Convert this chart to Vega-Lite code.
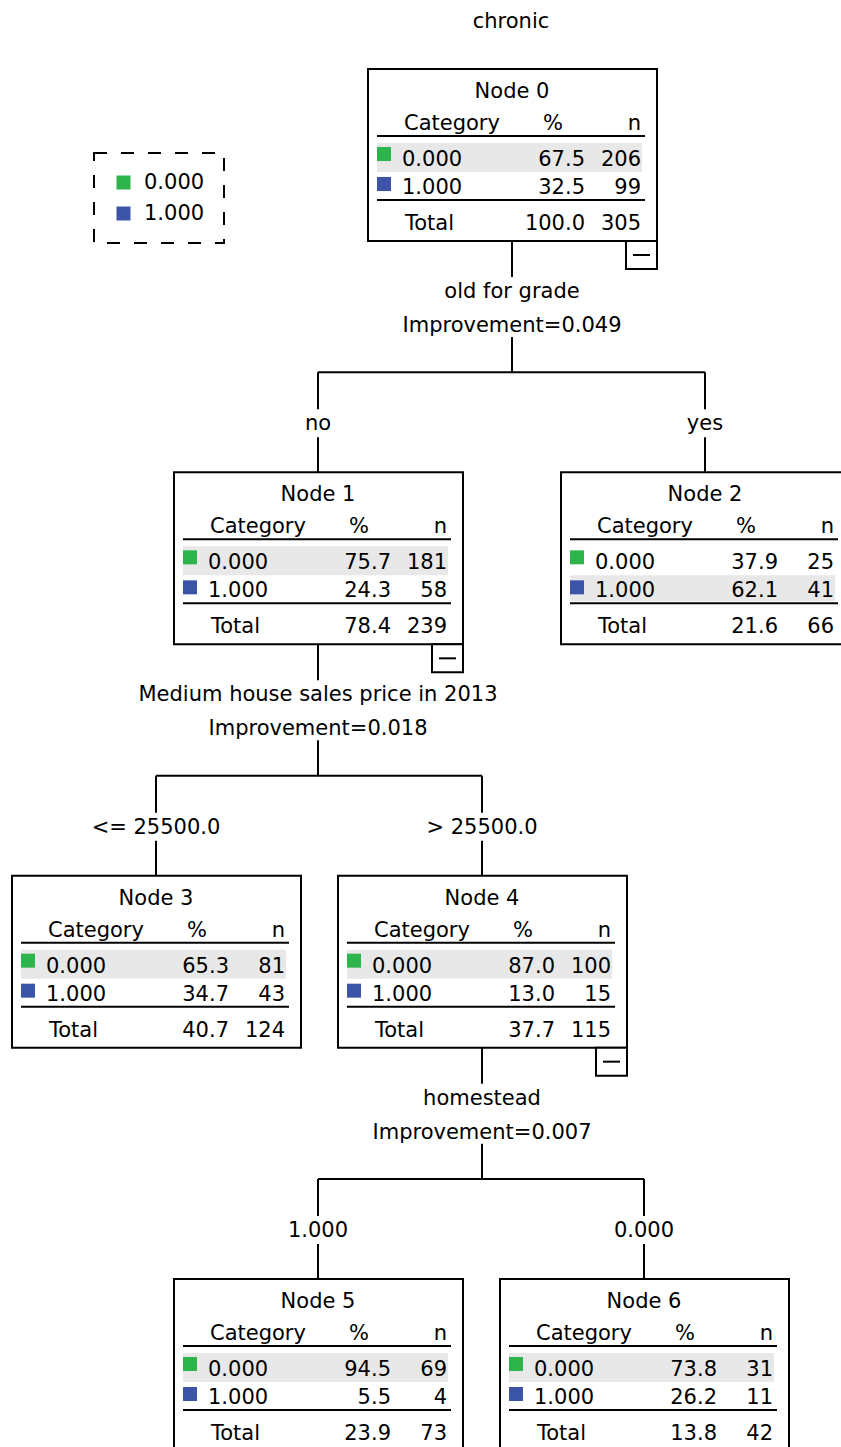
{
  "$schema": "https://vega.github.io/schema/vega-lite/v6.json",
  "width": 841,
  "height": 1447,
  "autosize": "none",
  "padding": 0,
  "background": "white",
  "config": {
    "view": {"stroke": null},
    "text": {"font": "DejaVu Sans", "fontSize": 21, "fill": "#000000", "baseline": "alphabetic"},
    "legend": {
      "symbolType": "square",
      "symbolSize": 196,
      "symbolStrokeWidth": 0,
      "symbolOpacity": 1,
      "labelFont": "DejaVu Sans",
      "labelFontSize": 21,
      "labelColor": "#000000",
      "labelOffset": 10,
      "rowPadding": 9,
      "padding": 19,
      "strokeColor": "black",
      "strokeDash": [13, 14],
      "strokeWidth": 2
    }
  },
  "datasets": {
    "nodes": [
      {"node": 0, "parent": null, "depth": 0, "xpos": 512, "title": "Node 0", "edge": null, "split": "old for grade", "improvement": "Improvement=0.049", "total_pct": 100.0, "total_n": 305, "target": "chronic"},
      {"node": 1, "parent": 0, "depth": 1, "xpos": 318, "title": "Node 1", "edge": "no", "split": "Medium house sales price in 2013", "improvement": "Improvement=0.018", "total_pct": 78.4, "total_n": 239},
      {"node": 2, "parent": 0, "depth": 1, "xpos": 705, "title": "Node 2", "edge": "yes", "split": null, "improvement": null, "total_pct": 21.6, "total_n": 66},
      {"node": 3, "parent": 1, "depth": 2, "xpos": 156, "title": "Node 3", "edge": "<= 25500.0", "split": null, "improvement": null, "total_pct": 40.7, "total_n": 124},
      {"node": 4, "parent": 1, "depth": 2, "xpos": 482, "title": "Node 4", "edge": "> 25500.0", "split": "homestead", "improvement": "Improvement=0.007", "total_pct": 37.7, "total_n": 115},
      {"node": 5, "parent": 4, "depth": 3, "xpos": 318, "title": "Node 5", "edge": "1.000", "split": null, "improvement": null, "total_pct": 23.9, "total_n": 73},
      {"node": 6, "parent": 4, "depth": 3, "xpos": 644, "title": "Node 6", "edge": "0.000", "split": null, "improvement": null, "total_pct": 13.8, "total_n": 42}
    ],
    "rows": [
      {"node": 0, "cat": "0.000", "pct": 67.5, "n": 206},
      {"node": 0, "cat": "1.000", "pct": 32.5, "n": 99},
      {"node": 1, "cat": "0.000", "pct": 75.7, "n": 181},
      {"node": 1, "cat": "1.000", "pct": 24.3, "n": 58},
      {"node": 2, "cat": "0.000", "pct": 37.9, "n": 25},
      {"node": 2, "cat": "1.000", "pct": 62.1, "n": 41},
      {"node": 3, "cat": "0.000", "pct": 65.3, "n": 81},
      {"node": 3, "cat": "1.000", "pct": 34.7, "n": 43},
      {"node": 4, "cat": "0.000", "pct": 87.0, "n": 100},
      {"node": 4, "cat": "1.000", "pct": 13.0, "n": 15},
      {"node": 5, "cat": "0.000", "pct": 94.5, "n": 69},
      {"node": 5, "cat": "1.000", "pct": 5.5, "n": 4},
      {"node": 6, "cat": "0.000", "pct": 73.8, "n": 31},
      {"node": 6, "cat": "1.000", "pct": 26.2, "n": 11}
    ]
  },
  "data": {"name": "nodes"},
  "encoding": {
    "x": {"field": "xpos", "type": "quantitative", "scale": {"domain": [0, 841], "nice": false, "zero": false}, "axis": null},
    "y": {"field": "depth", "type": "quantitative", "scale": {"domain": [-0.17108, 3.41653], "reverse": true, "nice": false, "zero": false}, "axis": null}
  },
  "layer": [
    {
      "mark": {"type": "rect", "fill": "white", "stroke": "black", "strokeWidth": 2, "xOffset": -144, "x2Offset": 145, "yOffset": 0, "y2Offset": 172},
      "encoding": {"x2": {"field": "xpos"}, "y2": {"field": "depth"}}
    },
    {
      "data": {"name": "rows"},
      "transform": [
        {"lookup": "node", "from": {"data": {"name": "nodes"}, "key": "node", "fields": ["xpos", "depth"]}},
        {"joinaggregate": [{"op": "max", "field": "n", "as": "maxn"}], "groupby": ["node"]},
        {"filter": "datum.n == datum.maxn && datum.cat == '0.000'"}
      ],
      "mark": {"type": "rect", "fill": "#e8e8e8", "xOffset": -135, "x2Offset": 130, "yOffset": 74, "y2Offset": 103},
      "encoding": {"x2": {"field": "xpos"}, "y2": {"field": "depth"}}
    },
    {
      "data": {"name": "rows"},
      "transform": [
        {"lookup": "node", "from": {"data": {"name": "nodes"}, "key": "node", "fields": ["xpos", "depth"]}},
        {"joinaggregate": [{"op": "max", "field": "n", "as": "maxn"}], "groupby": ["node"]},
        {"filter": "datum.n == datum.maxn && datum.cat == '1.000'"}
      ],
      "mark": {"type": "rect", "fill": "#e8e8e8", "xOffset": -135, "x2Offset": 130, "yOffset": 103, "y2Offset": 129},
      "encoding": {"x2": {"field": "xpos"}, "y2": {"field": "depth"}}
    },
    {
      "mark": {"type": "rule", "stroke": "black", "strokeWidth": 2, "xOffset": -135, "x2Offset": 133, "yOffset": 67},
      "encoding": {"x2": {"field": "xpos"}}
    },
    {
      "mark": {"type": "rule", "stroke": "black", "strokeWidth": 2, "xOffset": -135, "x2Offset": 133, "yOffset": 131},
      "encoding": {"x2": {"field": "xpos"}}
    },
    {
      "mark": {"type": "text", "align": "center", "yOffset": 29},
      "encoding": {"text": {"field": "title"}}
    },
    {
      "mark": {"type": "text", "align": "left", "xOffset": -108, "yOffset": 61, "text": "Category"}
    },
    {
      "mark": {"type": "text", "align": "center", "xOffset": 41, "yOffset": 61, "text": "%"}
    },
    {
      "mark": {"type": "text", "align": "right", "xOffset": 129, "yOffset": 61, "text": "n"}
    },
    {
      "data": {"name": "rows"},
      "transform": [
        {"lookup": "node", "from": {"data": {"name": "nodes"}, "key": "node", "fields": ["xpos", "depth"]}},
        {"filter": "datum.cat == '0.000'"}
      ],
      "mark": {"type": "rect", "xOffset": -135, "x2Offset": -121, "yOffset": 78, "y2Offset": 92},
      "encoding": {
        "x2": {"field": "xpos"},
        "y2": {"field": "depth"},
        "color": {"field": "cat", "type": "nominal", "scale": {"domain": ["0.000", "1.000"], "range": ["#2db54b", "#3b54a7"]}, "legend": {"orient": "none", "legendX": 94, "legendY": 153, "title": null}}
      }
    },
    {
      "data": {"name": "rows"},
      "transform": [
        {"lookup": "node", "from": {"data": {"name": "nodes"}, "key": "node", "fields": ["xpos", "depth"]}},
        {"filter": "datum.cat == '1.000'"}
      ],
      "mark": {"type": "rect", "xOffset": -135, "x2Offset": -121, "yOffset": 108, "y2Offset": 122},
      "encoding": {
        "x2": {"field": "xpos"},
        "y2": {"field": "depth"},
        "color": {"field": "cat", "type": "nominal", "scale": {"domain": ["0.000", "1.000"], "range": ["#2db54b", "#3b54a7"]}, "legend": {"orient": "none", "legendX": 94, "legendY": 153, "title": null}}
      }
    },
    {
      "data": {"name": "rows"},
      "transform": [
        {"lookup": "node", "from": {"data": {"name": "nodes"}, "key": "node", "fields": ["xpos", "depth"]}},
        {"filter": "datum.cat == '0.000'"}
      ],
      "layer": [
        {"mark": {"type": "text", "align": "left", "xOffset": -110, "yOffset": 97}, "encoding": {"text": {"field": "cat"}}},
        {"mark": {"type": "text", "align": "right", "xOffset": 73, "yOffset": 97}, "encoding": {"text": {"field": "pct", "type": "quantitative", "format": ".1f"}}},
        {"mark": {"type": "text", "align": "right", "xOffset": 129, "yOffset": 97}, "encoding": {"text": {"field": "n", "type": "quantitative", "format": "d"}}}
      ]
    },
    {
      "data": {"name": "rows"},
      "transform": [
        {"lookup": "node", "from": {"data": {"name": "nodes"}, "key": "node", "fields": ["xpos", "depth"]}},
        {"filter": "datum.cat == '1.000'"}
      ],
      "layer": [
        {"mark": {"type": "text", "align": "left", "xOffset": -110, "yOffset": 125}, "encoding": {"text": {"field": "cat"}}},
        {"mark": {"type": "text", "align": "right", "xOffset": 73, "yOffset": 125}, "encoding": {"text": {"field": "pct", "type": "quantitative", "format": ".1f"}}},
        {"mark": {"type": "text", "align": "right", "xOffset": 129, "yOffset": 125}, "encoding": {"text": {"field": "n", "type": "quantitative", "format": "d"}}}
      ]
    },
    {
      "mark": {"type": "text", "align": "left", "xOffset": -107, "yOffset": 161, "text": "Total"}
    },
    {
      "mark": {"type": "text", "align": "right", "xOffset": 73, "yOffset": 161},
      "encoding": {"text": {"field": "total_pct", "type": "quantitative", "format": ".1f"}}
    },
    {
      "mark": {"type": "text", "align": "right", "xOffset": 129, "yOffset": 161},
      "encoding": {"text": {"field": "total_n", "type": "quantitative", "format": "d"}}
    },
    {
      "transform": [{"filter": "isValid(datum.split)"}],
      "layer": [
        {
          "mark": {"type": "rect", "fill": "white", "stroke": "black", "strokeWidth": 2, "xOffset": 114, "x2Offset": 145, "yOffset": 172, "y2Offset": 200},
          "encoding": {"x2": {"field": "xpos"}, "y2": {"field": "depth"}}
        },
        {
          "mark": {"type": "rule", "stroke": "black", "strokeWidth": 2, "xOffset": 121, "x2Offset": 138, "yOffset": 186},
          "encoding": {"x2": {"field": "xpos"}}
        },
        {
          "mark": {"type": "rule", "stroke": "black", "strokeWidth": 2, "yOffset": 172, "y2Offset": 208},
          "encoding": {"y2": {"field": "depth"}}
        },
        {
          "mark": {"type": "text", "align": "center", "yOffset": 229},
          "encoding": {"text": {"field": "split"}}
        },
        {
          "mark": {"type": "text", "align": "center", "yOffset": 263},
          "encoding": {"text": {"field": "improvement"}}
        },
        {
          "mark": {"type": "rule", "stroke": "black", "strokeWidth": 2, "yOffset": 268, "y2Offset": 303},
          "encoding": {"y2": {"field": "depth"}}
        }
      ]
    },
    {
      "transform": [
        {"filter": "isValid(datum.parent)"},
        {"lookup": "parent", "from": {"data": {"name": "nodes"}, "key": "node", "fields": ["xpos"]}, "as": ["pxpos"]}
      ],
      "layer": [
        {
          "mark": {"type": "rule", "stroke": "black", "strokeWidth": 2, "yOffset": -100},
          "encoding": {"x": {"field": "pxpos", "type": "quantitative"}, "x2": {"field": "xpos"}}
        },
        {
          "mark": {"type": "rule", "stroke": "black", "strokeWidth": 2, "yOffset": -100, "y2Offset": -63},
          "encoding": {"y2": {"field": "depth"}}
        },
        {
          "mark": {"type": "text", "align": "center", "yOffset": -42},
          "encoding": {"text": {"field": "edge"}}
        },
        {
          "mark": {"type": "rule", "stroke": "black", "strokeWidth": 2, "yOffset": -35, "y2Offset": 0},
          "encoding": {"y2": {"field": "depth"}}
        }
      ]
    },
    {
      "transform": [{"filter": "datum.depth == 0"}],
      "mark": {"type": "text", "align": "center", "xOffset": -1, "yOffset": -41},
      "encoding": {"text": {"field": "target"}}
    }
  ]
}
